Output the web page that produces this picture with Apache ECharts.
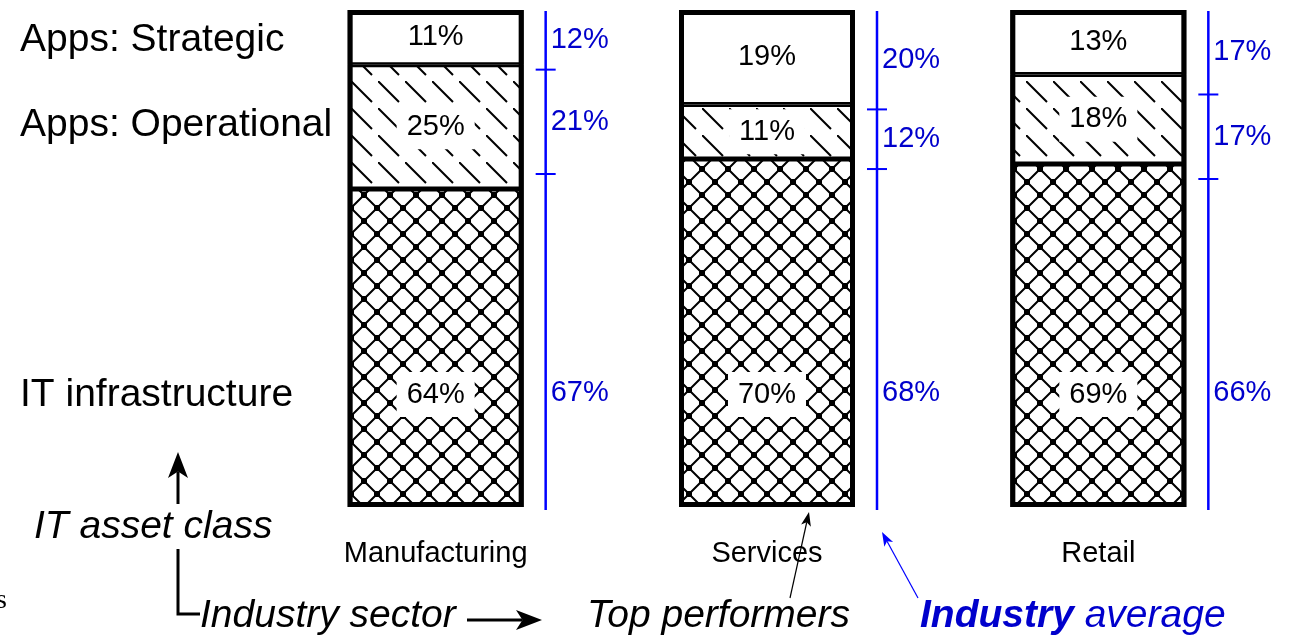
<!DOCTYPE html>
<html>
<head>
<meta charset="utf-8">
<script src="https://cdn.jsdelivr.net/npm/echarts@6/dist/echarts.min.js"></script>
<style>
  html, body { margin: 0; padding: 0; background: #fff; }
  #chart { width: 1299px; height: 639px; }
</style>
</head>
<body>
<div id="chart"></div>
<script>
  // sectors and values
  const sectors = ['Manufacturing', 'Services', 'Retail'];
  const topStrategic = [11, 19, 13];
  const topOperational = [25, 11, 18];
  const topInfra = [64, 70, 69];
  const avgStrategic = [12, 20, 17];
  const avgOperational = [21, 12, 17];
  const avgInfra = [67, 68, 66];

  const FONT = '"Liberation Sans", Arial, sans-serif';
  const BLUE = '#0000ff';
  const BLUE_TEXT = '#0000cc';

  function hatchTile() {
    let c = document.createElement('canvas');
    c.width = 27; c.height = 27;
    let g = c.getContext('2d');
    g.fillStyle = '#fff';
    g.fillRect(0, 0, 27, 27);
    g.strokeStyle = '#000';
    g.lineWidth = 2;
    g.beginPath();
    g.moveTo(0, 0);
    g.lineTo(21, 21);
    g.stroke();
    return c;
  }

  function latticeTile() {
    let w = 26, h = 26;
    let c = document.createElement('canvas');
    c.width = w; c.height = h;
    let g = c.getContext('2d');
    g.fillStyle = '#fff';
    g.fillRect(0, 0, w, h);
    g.strokeStyle = '#000';
    g.lineWidth = 2;
    g.beginPath();
    g.moveTo(0, h / 2);
    g.lineTo(w / 2, 0);
    g.lineTo(w, h / 2);
    g.lineTo(w / 2, h);
    g.closePath();
    g.stroke();
    g.fillStyle = '#000';
    g.fillRect(w / 2 - 3, -3, 6, 6);
    g.fillRect(w / 2 - 3, h - 3, 6, 6);
    g.fillRect(-3, h / 2 - 3, 6, 6);
    g.fillRect(w - 3, h / 2 - 3, 6, 6);
    return c;
  }

  function arrow(x1, y1, x2, y2, width, color, headLen, headW) {
    let dx = x2 - x1, dy = y2 - y1, len = Math.hypot(dx, dy);
    let ux = dx / len, uy = dy / len, px = -uy, py = ux;
    let bx = x2 - ux * headLen, by = y2 - uy * headLen;
    let nx = x2 - ux * headLen * 0.75, ny = y2 - uy * headLen * 0.75;
    return [
      { type: 'line', silent: true, shape: { x1: x1, y1: y1, x2: nx, y2: ny },
        style: { stroke: color, lineWidth: width } },
      { type: 'polygon', silent: true,
        shape: { points: [[x2, y2], [bx + px * headW, by + py * headW], [nx, ny], [bx - px * headW, by - py * headW]] },
        style: { fill: color } }
    ];
  }

  function txt(x, y, text, size, extra) {
    return {
      type: 'text', x: x, y: y, silent: true,
      style: Object.assign({ text: text, fontSize: size, fontFamily: FONT, fill: '#000', verticalAlign: 'middle' }, extra || {})
    };
  }

  const barLabel = {
    show: true,
    formatter: '{c}%',
    color: '#000',
    fontSize: 29,
    fontFamily: FONT,
    backgroundColor: '#fff',
    padding: [8, 10]
  };

  const BAR_W = 176;
  const segStyle = { borderColor: '#000', borderWidth: 2.5 };

  // where the infrastructure figures sit on the value axis
  const infraLabelAt = 23;

  function renderAverage(params, api) {
    let idx = api.value(0);
    let s = api.value(1), o = api.value(2);
    let top = api.coord([idx, 100]);
    let bottom = api.coord([idx, 0]);
    let x = top[0] + 110;
    let t1 = api.coord([idx, 100 - s])[1];
    let t2 = api.coord([idx, 100 - s - o])[1];
    let yInf = api.coord([idx, infraLabelAt])[1];
    let label = function (y, v) {
      return { type: 'text', x: x + 5, y: y,
        style: { text: v + '%', fontSize: 29, fontFamily: FONT, fill: BLUE_TEXT, verticalAlign: 'middle' } };
    };
    return {
      type: 'group',
      children: [
        { type: 'line', shape: { x1: x, y1: top[1] + 1, x2: x, y2: bottom[1] + 3 }, style: { stroke: BLUE, lineWidth: 2.5 } },
        { type: 'line', shape: { x1: x - 10, y1: t1, x2: x + 10, y2: t1 }, style: { stroke: BLUE, lineWidth: 2 } },
        { type: 'line', shape: { x1: x - 10, y1: t2, x2: x + 10, y2: t2 }, style: { stroke: BLUE, lineWidth: 2 } },
        label((top[1] + t1) / 2, s),
        label((t1 + t2) / 2, o),
        label(yInf, api.value(3))
      ]
    };
  }

  let chart = echarts.init(document.getElementById('chart'));

  let graphics = [
    txt(20, 40, 'Apps: Strategic', 39),
    txt(20, 125, 'Apps: Operational', 39),
    txt(20, 395, 'IT infrastructure', 39),
    txt(34, 527, 'IT asset class', 39, { fontStyle: 'italic' }),
    txt(200, 616, 'Industry sector', 39, { fontStyle: 'italic' }),
    txt(587, 616, 'Top performers', 39, { fontStyle: 'italic' }),
    {
      type: 'text', x: 920, y: 616, silent: true,
      style: {
        text: '{b|Industry}{n| average}',
        verticalAlign: 'middle',
        rich: {
          b: { fontSize: 39, fontFamily: FONT, fontStyle: 'italic', fontWeight: 'bold', fill: BLUE_TEXT, color: BLUE_TEXT },
          n: { fontSize: 39, fontFamily: FONT, fontStyle: 'italic', fill: BLUE_TEXT, color: BLUE_TEXT }
        }
      }
    },
    txt(-4, 601, 's', 28, { fontFamily: '"Liberation Serif", serif' }),
    { type: 'polyline', silent: true, shape: { points: [[178, 549], [178, 614], [200, 614]] },
      style: { stroke: '#000', lineWidth: 3, fill: null } }
  ]
    .concat(arrow(178, 504, 178, 452, 3, '#000', 26, 10))
    .concat(arrow(467, 620, 542, 620, 3, '#000', 26, 10))
    .concat(arrow(790, 598, 809, 512, 1.2, '#000', 14, 5))
    .concat(arrow(918, 598, 882, 532, 1.2, BLUE, 14, 5));

  let option = {
    animation: false,
    backgroundColor: '#fff',
    grid: { left: 270, right: 35, top: 10, bottom: 132 },
    xAxis: {
      type: 'category',
      data: sectors,
      axisLine: { show: false },
      axisTick: { show: false },
      axisLabel: { color: '#000', fontSize: 29, fontFamily: FONT, margin: 32 }
    },
    yAxis: { type: 'value', min: 0, max: 100, show: false },
    series: [
      {
        name: 'IT infrastructure', type: 'bar', stack: 'top', barWidth: BAR_W, barGap: '-100%',
        data: topInfra,
        itemStyle: Object.assign({ color: { image: latticeTile(), repeat: 'repeat' } }, segStyle),
        label: Object.assign({}, barLabel, { position: 'insideBottom', distance: 90 })
      },
      {
        name: 'Apps: Operational', type: 'bar', stack: 'top', barWidth: BAR_W, barGap: '-100%',
        data: topOperational,
        itemStyle: Object.assign({ color: { image: hatchTile(), repeat: 'repeat' } }, segStyle),
        label: Object.assign({}, barLabel, { position: 'inside' })
      },
      {
        name: 'Apps: Strategic', type: 'bar', stack: 'top', barWidth: BAR_W, barGap: '-100%',
        data: topStrategic,
        itemStyle: Object.assign({ color: '#fff' }, segStyle),
        label: Object.assign({}, barLabel, { position: 'inside', backgroundColor: 'transparent', padding: 0 })
      },
      {
        // outer frame round each stacked bar
        name: 'frame', type: 'bar', barWidth: BAR_W, barGap: '-100%', silent: true, z: 3,
        data: sectors.map(function (s, i) { return topStrategic[i] + topOperational[i] + topInfra[i]; }),
        itemStyle: { color: 'transparent', borderColor: '#000', borderWidth: 5 }
      },
      {
        name: 'Industry average', type: 'custom',
        renderItem: renderAverage,
        data: sectors.map(function (s, i) { return [i, avgStrategic[i], avgOperational[i], avgInfra[i]]; }),
        z: 5
      }
    ],
    graphic: graphics
  };

  chart.setOption(option);
</script>
</body>
</html>
